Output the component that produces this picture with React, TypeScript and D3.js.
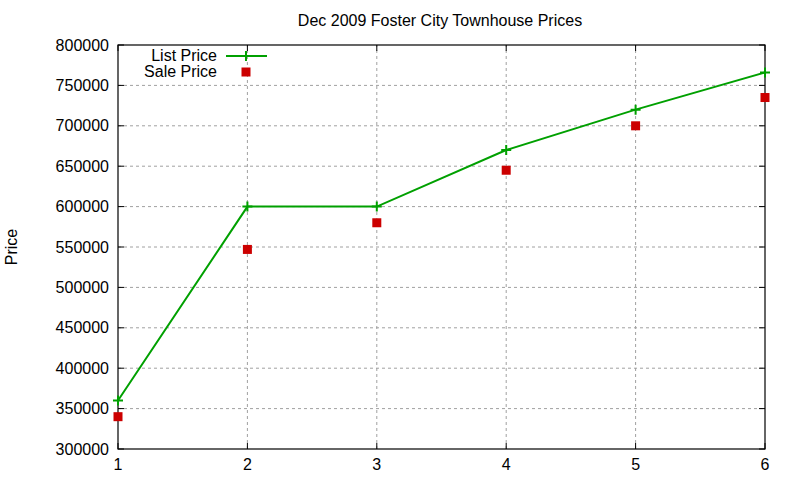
import React from 'react';
import * as d3 from 'd3';

const months = [1, 2, 3, 4, 5, 6];
const listPrice = [360000, 600000, 600000, 670000, 720000, 766000];
const salePrice = [340000, 547000, 580000, 645000, 700000, 735000];
const yTicks = [300000, 350000, 400000, 450000, 500000, 550000, 600000, 650000, 700000, 750000, 800000];

const W = 800;
const H = 480;
const margin = { top: 45, right: 35, bottom: 31, left: 118 };
const font = '"Liberation Sans", Arial, sans-serif';

const App: React.FC = () => {
  const x = d3.scaleLinear().domain([1, 6]).range([margin.left, W - margin.right]);
  const y = d3.scaleLinear().domain([300000, 800000]).range([H - margin.bottom, margin.top]);
  const line = d3.line<number>()
    .x((_, i) => x(months[i]))
    .y(d => y(d));

  const x0 = margin.left, x1 = W - margin.right;
  const y0 = H - margin.bottom, y1 = margin.top;
  const tick = 6;

  return (
    <div style={{ position: 'absolute', left: 0, top: 0 }}>
      <svg width={W} height={H} style={{ display: 'block', fontFamily: font }}>
        <rect width={W} height={H} fill="#fff" />
        {/* grid */}
        {yTicks.slice(1, -1).map(t => (
          <line key={'gy' + t} x1={x0} x2={x1} y1={y(t)} y2={y(t)} stroke="#a0a0a0" strokeDasharray="3,3" />
        ))}
        {months.slice(1, -1).map(m => (
          <line key={'gx' + m} x1={x(m)} x2={x(m)} y1={y0} y2={y1} stroke="#a0a0a0" strokeDasharray="3,3" />
        ))}
        {/* ticks */}
        {yTicks.map(t => (
          <g key={'ty' + t}>
            <line x1={x0} x2={x0 + tick} y1={y(t)} y2={y(t)} stroke="#000" />
            <line x1={x1} x2={x1 - tick} y1={y(t)} y2={y(t)} stroke="#000" />
            <text x={x0 - 9} y={y(t)} dy="0.35em" textAnchor="end" fontSize={16} fill="#000">{t}</text>
          </g>
        ))}
        {months.map(m => (
          <g key={'tx' + m}>
            <line x1={x(m)} x2={x(m)} y1={y0} y2={y0 - tick} stroke="#000" />
            <line x1={x(m)} x2={x(m)} y1={y1} y2={y1 + tick} stroke="#000" />
            <text x={x(m)} y={y0 + 21} textAnchor="middle" fontSize={16} fill="#000">{m}</text>
          </g>
        ))}
        <rect x={x0} y={y1} width={x1 - x0} height={y0 - y1} fill="none" stroke="#000" strokeWidth={1.2} />
        {/* series */}
        <path d={line(listPrice) ?? ''} fill="none" stroke="#00a000" strokeWidth={2} />
        {listPrice.map((v, i) => (
          <path key={'lp' + i} d={`M${x(months[i]) - 5},${y(v)}h10M${x(months[i])},${y(v) - 5}v10`} stroke="#00a000" strokeWidth={2} />
        ))}
        {salePrice.map((v, i) => (
          <rect key={'sp' + i} x={x(months[i]) - 4.5} y={y(v) - 4.5} width={9} height={9} fill="#cc0000" />
        ))}
        {/* legend */}
        <text x={217} y={61} textAnchor="end" fontSize={16} fill="#000">List Price</text>
        <line x1={226} x2={267} y1={56} y2={56} stroke="#00a000" strokeWidth={2} />
        <path d="M241,56h10M246,51v10" stroke="#00a000" strokeWidth={2} />
        <text x={217} y={77} textAnchor="end" fontSize={16} fill="#000">Sale Price</text>
        <rect x={241.5} y={67.5} width={9} height={9} fill="#cc0000" />
        {/* titles */}
        <text x={440} y={26} textAnchor="middle" fontSize={16} fill="#000">Dec 2009 Foster City Townhouse Prices</text>
        <text transform="translate(17,247) rotate(-90)" textAnchor="middle" fontSize={16} fill="#000">Price</text>
      </svg>
    </div>
  );
};

export default App;
